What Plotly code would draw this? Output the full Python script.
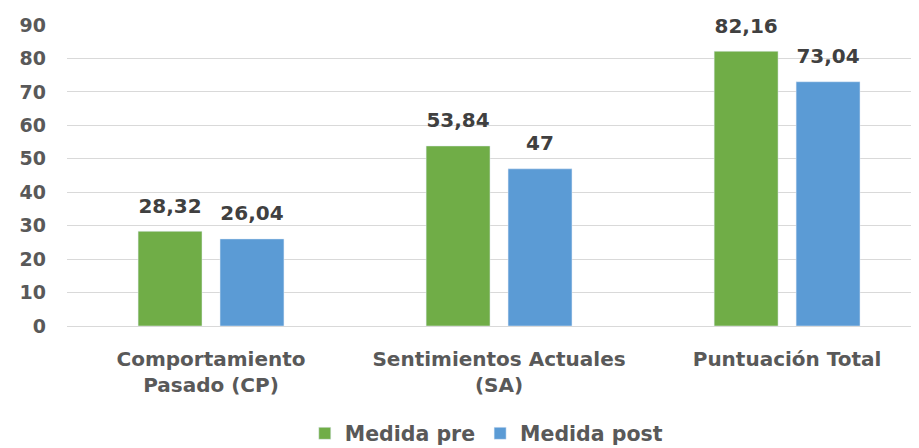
import plotly.graph_objects as go

categories = ["Comportamiento<br>Pasado (CP)", "Sentimientos Actuales<br>(SA)", "Puntuación Total"]
pre_values = [28.32, 53.84, 82.16]
post_values = [26.04, 47, 73.04]
series_names = ["Medida pre", "Medida post"]
tick_vals = [0, 10, 20, 30, 40, 50, 60, 70, 80, 90]

FONT = "DejaVu Sans"
fig = go.Figure()
for i, (name, vals, col) in enumerate([(series_names[0], pre_values, "#70AD47"),
                                        (series_names[1], post_values, "#5B9BD5")]):
    fig.add_trace(go.Bar(
        x=categories, y=vals, name=name, marker_color=col, offsetgroup=str(i),
        hoverinfo="skip",
    ))
    fig.add_trace(go.Scatter(
        x=categories, y=vals, mode="markers+text", offsetgroup=str(i), showlegend=False,
        marker=dict(size=20, opacity=0), texttemplate="%{y}", textposition="top center",
        cliponaxis=False, hoverinfo="skip",
        textfont=dict(family=FONT, size=20, color="#404040", weight="bold"),
    ))

fig.update_layout(
    width=911, height=440,
    margin=dict(l=59, r=0, t=17, b=122, autoexpand=False),
    paper_bgcolor="white", plot_bgcolor="white",
    barmode="group", bargap=0.431, bargroupgap=0.22,
    scattermode="group", scattergap=0.431,
    separators=",.",
    showlegend=True,
    legend=dict(orientation="h", x=0.525, xanchor="center", xref="container",
                y=0.033, yanchor="middle", yref="container",
                font=dict(family=FONT, size=20.5, color="#595959", weight="bold"),
                itemwidth=30, tracegroupgap=0),
    xaxis=dict(range=[-0.5, 2.458], showgrid=False, showline=True, linecolor="#D9D9D9",
               ticklabelstandoff=15,
               tickfont=dict(family=FONT, size=20, color="#595959", weight="bold"), ticks=""),
    yaxis=dict(range=[0, 90], tickvals=tick_vals, showgrid=True, gridcolor="#D9D9D9", gridwidth=1.3,
               zeroline=False, ticks="", ticklabelstandoff=20,
               tickfont=dict(family=FONT, size=19, color="#595959", weight="bold")),
)
fig.write_html("out.html")
